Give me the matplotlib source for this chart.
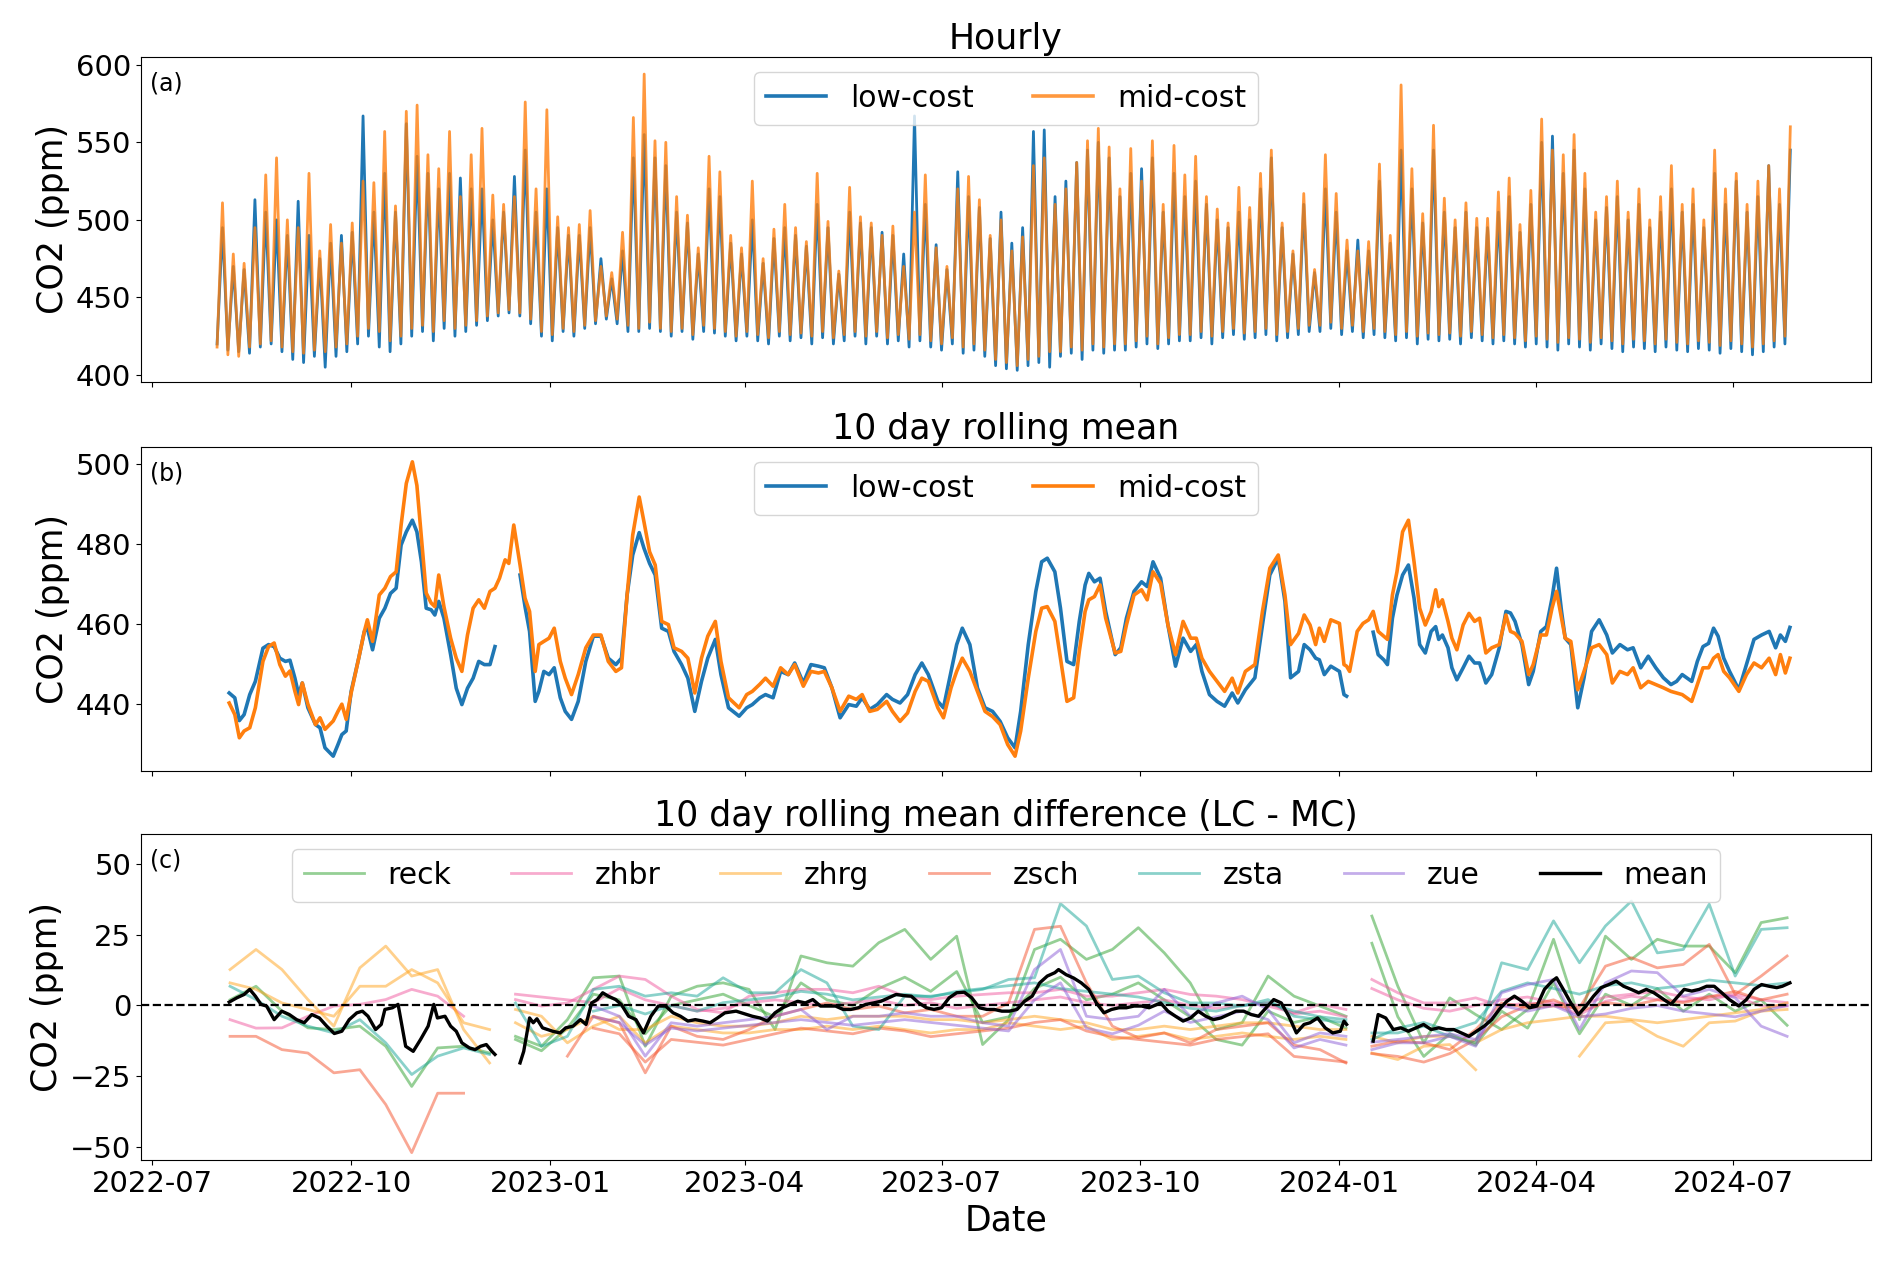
import numpy as np
import matplotlib
matplotlib.use('Agg')
import matplotlib.pyplot as plt
import matplotlib.dates as mdates

nan = np.nan
BASE = np.datetime64('2022-07-01T00:00')


def to_dates(days):
    d = np.asarray(days, dtype=float)
    return BASE + np.round(d * 24 * 60).astype('int64').astype('timedelta64[m]')

# ---------------- (a) hourly: per 5-day bin trough and peak (ppm) ----------------
hourly_bin_start = np.arange(30, 760, 5)  # days since 2022-07-01
mc_peak = [511, 478, 472, 495, 529, 540, 500, 495, 530, 480,
           497, 485, 498, 525, 524, 557, 509, 570, 574, 542,
           533, 557, 515, 542, 559, 516, 510, 515, 576, 520,
           571, 502, 495, 497, 506, 470, 466, 492, 566, 594,
           551, 550, 515, 503, 482, 541, 531, 490, 482, 525,
           475, 494, 510, 495, 486, 530, 499, 467, 521, 502,
           498, 490, 496, 470, 505, 529, 482, 470, 520, 528,
           513, 490, 500, 480, 489, 535, 540, 510, 520, 537,
           551, 559, 547, 520, 546, 525, 551, 510, 548, 529,
           541, 515, 507, 498, 521, 508, 530, 545, 498, 480,
           517, 468, 542, 517, 487, 480, 486, 536, 490, 587,
           533, 504, 561, 514, 500, 511, 501, 501, 518, 527,
           497, 519, 565, 545, 542, 555, 530, 505, 515, 525,
           505, 520, 500, 515, 535, 510, 520, 500, 545, 520,
           530, 510, 525, 535, 520, 560]
lc_peak = [495, 470, 468, 513, 505, 500, 490, 512, 490, 475,
           485, 490, 492, 567, 505, 530, 505, 562, 541, 530,
           520, 530, 527, 520, 520, 500, 505, 528, 545, 505,
           520, 495, 490, 490, 495, 475, 462, 480, 540, 555,
           540, 535, 505, 498, 478, 520, 515, 485, 478, 500,
           472, 488, 495, 490, 483, 510, 495, 465, 505, 498,
           495, 492, 490, 478, 567, 510, 484, 468, 531, 515,
           508, 488, 505, 485, 495, 557, 558, 515, 525, 537,
           545, 550, 540, 515, 530, 533, 540, 505, 530, 515,
           525, 510, 500, 495, 505, 500, 520, 540, 495, 478,
           510, 466, 520, 505, 480, 487, 480, 525, 485, 545,
           520, 498, 545, 505, 495, 505, 495, 495, 505, 515,
           492, 510, 550, 554, 530, 545, 520, 500, 508, 515,
           500, 510, 495, 505, 520, 505, 510, 495, 530, 510,
           525, 505, 515, 535, 510, 545]
mc_low = [418, 413, 412, 418, 420, 422,
          418, 415, 414, 416, 415, 418,
          420, 425, 430, 428, 422, 425,
          430, 432, 428, 435, 430, 432,
          435, 438, 440, 442, 440, 436,
          428, 426, 430, 428, 432, 435,
          438, 436, 432, 430, 434, 430,
          428, 430, 426, 432, 430, 428,
          425, 428, 426, 424, 428, 426,
          427, 425, 428, 424, 426, 428,
          425, 428, 424, 426, 423, 426,
          422, 420, 424, 418, 420, 416,
          410, 408, 406, 410, 412, 415,
          415, 418, 416, 420, 418, 420,
          420, 422, 425, 420, 424, 426,
          426, 428, 425, 428, 430, 427,
          428, 430, 426, 428, 430, 432,
          432, 434, 430, 432, 428, 430,
          428, 426, 428, 425, 427, 426,
          427, 425, 428, 426, 424, 426,
          424, 422, 425, 423, 421, 424,
          423, 421, 424, 422, 420, 423,
          422, 420, 423, 421, 420, 422,
          421, 419, 422, 420, 418, 420, 422, 425]
lc_low = [420, 416, 415, 414, 418, 420,
          415, 410, 408, 412, 405, 412,
          415, 420, 425, 418, 415, 420,
          425, 428, 422, 430, 425, 428,
          432, 435, 438, 440, 438, 433,
          425, 422, 428, 425, 430, 433,
          436, 433, 428, 428, 430, 428,
          425, 428, 423, 428, 427, 425,
          422, 425, 422, 420, 425, 422,
          424, 420, 424, 420, 422, 425,
          420, 425, 420, 422, 418, 422,
          418, 416, 420, 414, 416, 412,
          406, 404, 403, 406, 408, 405,
          412, 414, 410, 416, 414, 416,
          416, 418, 420, 417, 420, 422,
          422, 424, 420, 424, 426, 423,
          424, 426, 422, 424, 426, 428,
          428, 430, 426, 428, 424, 426,
          424, 422, 424, 420, 423, 422,
          423, 420, 424, 422, 420, 422,
          420, 418, 420, 418, 416, 420,
          418, 416, 420, 417, 415, 418,
          417, 415, 418, 416, 415, 417,
          416, 414, 417, 415, 413, 415, 418, 420]

# ---------------- (b) 10 day rolling mean ----------------
b_days = [35.6, 38.2, 40.3, 42.5, 45.1, 47.7, 51.2, 53.8, 56.4, 59.0, 61.6, 63.7, 66.0, 67.7, 69.4,
          72.0, 75.5, 77.6, 79.9, 83.7, 85.9, 87.7, 89.7, 92.0, 95.5, 98.1, 99.5, 101.9, 105.0,
          107.6, 110.2, 112.8, 115.1, 117.5, 120.3, 122.4, 124.5, 126.7, 129.0, 130.7, 132.5,
          134.9, 138.0, 140.6, 143.2, 145.8, 148.4, 151.0, 153.6, 156.2, 158.5, 160.6, 163.2,
          164.9, 167.2, 170.1, 172.4, 174.5, 177.1, 178.8, 181.1, 183.5, 185.9, 188.7, 191.0,
          193.9, 197.0, 200.5, 204.0, 207.5, 210.9, 214.4, 217.0, 219.6, 222.2, 225.2, 227.4,
          230.0, 232.6, 235.6, 238.7, 241.3, 244.8, 247.7, 250.9, 254.0, 256.9, 260.4, 263.0,
          266.5,
          271.4, 274.9, 277.5, 281.0, 283.6, 287.1, 290.6, 294.1, 297.1, 301.1, 304.6, 308.1,
          310.8, 314.3, 318.1, 322.1, 325.6, 328.3, 331.8, 335.3, 339.6, 342.3, 345.8, 349.3,
          352.8, 355.9, 358.9, 363.3, 365.9, 369.4, 372.0, 374.6, 378.1, 381.6, 385.1, 388.6,
          392.1, 395.6, 399.0, 401.6, 405.1, 408.6, 411.3, 413.9, 417.4, 420.0, 423.0, 426.1,
          428.7, 431.4, 433.1, 435.7, 438.3, 440.9, 445.3, 447.9, 450.5, 454.0, 457.5, 460.1,
          462.8, 466.3, 469.7, 473.2, 476.7, 480.2, 482.8, 485.4, 488.9, 492.4, 495.9, 499.4,
          502.0, 505.5, 509.9, 513.4, 516.8, 520.7, 523.8, 526.4,
          530.1, 532.7, 535.4, 538.0, 539.7, 542.0, 545.0, 549.0, 551.1, 552.3, 553.7, 557.2,
          559.9, 562.5, 564.6, 566.9, 569.5, 571.2, 573.5, 575.6, 578.2, 580.9, 583.5, 586.1,
          588.7, 591.4, 593.5, 594.9, 596.6, 599.2, 601.0, 603.3, 606.2, 608.9, 611.5, 613.8,
          616.7, 619.4, 622.9, 626.0, 628.1, 630.2, 633.4, 636.5, 638.6, 642.1, 644.7, 647.3,
          649.4, 651.7, 653.4, 656.0, 659.2, 662.1, 665.6, 669.1, 672.6, 675.2, 678.7, 682.2,
          684.8, 688.3, 691.8, 695.3, 698.8, 702.3, 704.9, 707.5, 711.9, 714.5, 717.1, 719.7,
          722.0, 724.1, 726.7, 729.4, 733.7, 737.2, 740.7, 744.2, 747.7, 750.7, 752.9, 755.2,
          757.3]
b_lc = [442.8, 441.6, 435.9, 437.4, 442.4, 445.7, 454.0, 454.9, 454.4, 451.5, 450.7, 451.0, 446.5,
        442.4, 445.3, 439.1, 434.9, 434.1, 429.1, 427.0, 429.9, 432.4, 433.3, 443.2, 451.5, 458.2,
        459.0, 453.6, 461.5, 464.0, 467.7, 469.0, 479.8, 483.1, 486.0, 483.1, 475.6, 464.0, 463.6,
        462.3, 465.7, 461.5, 452.4, 444.0, 439.9, 444.0, 446.5, 450.7, 449.9, 449.9, 454.4, nan,
        nan, nan, nan, 472.3, 464.4, 458.2, 440.7, 443.2, 448.2, 447.4, 449.1, 441.6, 438.2, 436.2,
        440.7, 450.7, 457.0, 457.0, 451.5, 449.9, 451.5, 467.3, 477.3, 482.9, 479.0, 475.2, 472.3,
        459.0, 458.2, 453.2, 449.9, 446.5, 438.2, 445.7, 451.5, 456.2, 447.4, 439.1,
        437.0, 439.1, 439.9, 441.6, 442.4, 441.6, 448.2, 447.4, 450.3, 445.3, 449.9, 449.5, 449.1,
        444.1, 436.6, 439.9, 439.5, 441.6, 438.7, 439.9, 442.4, 441.2, 440.3, 442.4, 447.4, 450.3,
        447.4, 440.7, 439.1, 448.2, 454.9, 459.0, 454.9, 444.1, 439.1, 438.2, 435.7, 431.6, 429.1,
        438.2, 454.9, 468.2, 475.6, 476.5, 473.1, 464.0, 450.7, 449.9, 460.7, 469.8, 472.7, 470.6,
        471.5, 463.2, 452.4, 454.1, 461.5, 468.2, 470.6, 469.4, 475.6, 471.5, 459.8, 449.5, 456.5,
        453.2, 454.9, 448.2, 442.4, 440.7, 439.5, 442.8, 440.3, 443.6, 446.6, 459.8, 472.3, 476.5,
        465.7, 446.6,
        448.2, 454.9, 453.6, 451.5, 451.1, 447.4, 449.5, 448.2, 442.4, 442.0, nan, nan, nan, nan,
        458.0, 452.4, 451.1, 449.9, 461.5, 467.3, 472.3, 474.8, 466.5, 454.9, 452.8, 458.2, 459.4,
        456.2, 457.3, 454.1, 449.1, 446.1, 449.1, 452.0, 450.3, 450.3, 445.3, 447.4, 454.1, 463.2,
        462.8, 460.7, 454.9, 444.9, 448.2, 458.2, 459.4, 466.5, 474.0, 463.2, 456.5, 454.9, 439.1,
        446.6, 458.2, 461.1, 457.3, 452.8, 454.9, 453.6, 454.1, 449.1, 452.0, 449.1, 446.6, 444.9,
        445.7, 447.4, 445.7, 450.7, 454.4, 455.2, 459.0, 457.0, 451.5, 448.2, 443.6, 449.9, 456.2,
        457.3, 458.2, 454.1, 457.3, 455.7, 459.2]
b_mc = [440.3, 437.4, 431.6, 433.3, 434.1, 439.1, 450.7, 454.4, 455.3, 449.9, 447.0, 448.3, 443.2,
        439.9, 445.3, 440.0, 434.9, 436.6, 433.7, 435.8, 438.2, 440.0, 436.2, 442.8, 451.5, 458.2,
        461.1, 455.7, 467.3, 469.0, 471.9, 473.1, 484.8, 495.2, 500.6, 494.7, 481.5, 467.8, 465.3,
        464.4, 472.3, 464.4, 456.5, 451.5, 448.2, 457.3, 464.0, 466.1, 464.0, 468.2, 469.0, 471.5,
        476.1, 475.2, 484.8, 474.8, 466.5, 463.2, 448.2, 454.9, 455.7, 456.5, 459.0, 450.7, 446.5,
        442.4, 447.4, 454.1, 457.3, 457.3, 450.7, 448.2, 449.1, 467.3, 482.3, 491.8, 485.6, 478.1,
        474.8, 460.7, 459.9, 454.1, 453.2, 451.5, 442.8, 451.5, 457.0, 460.7, 450.7, 441.6,
        439.1, 442.4, 443.2, 445.0, 446.5, 444.5, 449.1, 447.4, 449.9, 444.5, 448.2, 447.8, 448.2,
        444.1, 438.2, 442.0, 441.2, 442.4, 438.2, 438.7, 440.7, 438.2, 435.7, 437.8, 443.2, 446.5,
        445.7, 439.1, 436.6, 444.1, 448.2, 451.5, 448.2, 443.2, 438.2, 436.9, 434.9, 429.9, 427.0,
        433.3, 446.5, 458.2, 464.0, 464.4, 460.7, 451.5, 440.7, 441.6, 453.2, 463.2, 466.1, 466.9,
        469.8, 461.5, 452.8, 453.2, 459.8, 467.3, 468.6, 466.1, 473.1, 470.2, 459.8, 452.4, 460.7,
        456.5, 456.5, 451.5, 448.2, 445.7, 443.2, 446.5, 442.8, 448.2, 449.9, 463.2, 474.0, 477.3,
        467.3, 454.9,
        457.7, 462.3, 459.8, 454.9, 459.0, 455.7, 461.1, 460.2, 449.9, 449.5, 448.2, 458.2, 460.2,
        461.1, 463.2, 458.2, 457.0, 456.2, 467.3, 473.1, 483.1, 486.0, 475.6, 464.0, 459.8, 463.2,
        468.6, 464.4, 466.1, 460.7, 456.5, 453.6, 459.8, 462.7, 460.7, 461.5, 452.8, 454.1, 454.9,
        462.3, 458.2, 457.7, 455.7, 447.4, 449.9, 457.3, 457.3, 464.0, 468.2, 461.5, 456.5, 455.7,
        443.6, 448.2, 454.1, 454.9, 452.4, 445.3, 448.2, 447.4, 449.1, 444.1, 445.7, 444.9, 444.1,
        443.2, 442.8, 442.4, 440.7, 444.9, 449.1, 449.1, 451.5, 452.4, 448.2, 446.6, 443.2, 447.4,
        450.3, 449.1, 451.5, 447.4, 452.4, 447.8, 451.5]

# ---------------- (c) 10 day rolling mean difference (LC - MC) ----------------
c_days = [36, 48, 60, 72, 84, 96, 108, 120, 132, 144, 156, 162,
          168, 180, 192, 204, 216, 228, 240, 252, 264, 276, 288, 300, 312, 324, 336, 348, 360,
          372, 384, 396, 408, 420, 432, 444, 456, 468, 480, 492, 504, 516, 528, 540, 552, 558,
          564, 576, 588, 600, 612, 624, 636, 648, 660, 672, 684, 696, 708, 720, 732, 744, 756]
N15 = [nan] * 15
N12 = [nan] * 12
reck_a = [2.0, 6.8, -2.0, -7.9, -8.5, -7.3, -14.4, -28.6, -15.0, -14.4, -16.8, nan,
          -10.9, -14.4, -5.0, 9.8, 10.4, -14.4, 3.3, 6.8, 8.0, 5.7, -8.5, 17.5, 15.1, 13.9, 22.2,
          26.9, 16.3, 24.5, -13.8, -5.0, 19.8, 23.4, 16.3, 19.8, 27.5, 18.6, 8.0, -8.5, -6.1, 10.4,
          3.3, -0.2, -3.8, nan,
          31.6, 6.8, -13.2, 2.7, -3.2, -8.5, -1.4, 23.4, -5.0, 24.5, 16.3, 23.4, 21.0, 21.0, 11.6,
          29.3, 31.0]
reck_b = N12 + [-12, -16, -8, 4, 2, -10, 0, 2, 4, 0, -4, 8, 2, 0, 6, 10, 5, 12, -6, -4, 6, 10, 2,
                4, 8, 2, -4, -12, -14, -2, -6, -4, -8, nan,
                22, -4, -18, -10, -14, -2, -8, 8, -10, 4, 0, 6, -2, 4, -2, 2, -7]
zhbr_a = [-5.0, -8.0, -7.9, -3.8, -0.2, 0.4, 2.1, 5.7, 3.3, -3.8, nan, nan,
          2.1, -0.2, 0.9, 5.7, 10.4, 9.2, 3.3, -1.4, -2.6, 3.3, 4.5, 5.7, 5.7, 4.5, 6.8, 3.3, 2.1,
          3.3, 3.9, 4.5, 4.5, 5.7, 3.3, 3.3, 4.5, 5.7, 3.9, 3.3, 2.1, -0.2, -2.6, 0.4, -1.4, nan,
          9.2, 4.5, 0.9, 0.9, 2.7, -0.2, 0.9, 0.4, -3.2, 1.5, 3.3, 2.1, 1.5, 3.3, 3.3, -0.2, -0.2]
zhbr_b = N12 + [4, 3, 2, 1, 6, 2, 0, -2, -1, 1, 2, 1, 0, 1, 2, 0, 1, -1, 0, 1, 2, 3, 1, 0, 1, 2,
                0, -1, 0, 1, -3, -2, -4, nan,
                6, 2, -1, -2, 0, 2, 3, 1, 0, 3, 4, 5, 3, 2, 4, 2, 1]
zhrg_a = [12.7, 19.8, 12.7, 2.1, -7.3, 13.3, 21.0, 10.4, 12.7, -8.5, -20.3, nan,
          -1.4, -3.8, -13.2, -7.3, -3.8, -13.2, -7.3, -8.5, -9.7, -9.7, -8.5, -8.5, -7.3, -8.5,
          -7.3, -8.5, -9.7, -8.5, -8.5, -6.1, -7.3, -8.5, -7.3, -12.0, -10.9, -9.7, -12.0, -10.9,
          -9.7, -10.9, -12.0, -10.9, -12.0, nan,
          -16.8, -19.1, -14.4, -13.8, -22.7, nan, nan, nan, -17.9, -6.1, -5.5, -10.9, -14.4, -6.1,
          -5.5, -2.0, -1.4]
zhrg_b = [8.0, 5.7, 0.9, -1.4, -3.8, 6.8, 6.8, 12.7, 8.0, -6.1, -8.5, nan,
          -6.1, -10.9, -8.5, -3.8, -8.5, -8.5, -3.8, -6.1, -7.3, -7.3, -6.1, -3.8, -5.0, -3.8,
          -3.8, -3.8, -5.0, -5.0, -6.1, -5.0, -3.8, -5.0, -6.1, -8.5, -8.5, -7.3, -8.5, -7.3, -6.1,
          -6.1, -7.3, -8.5, -8.5, nan,
          -10.9, -13.2, -10.9, -10.9, -13.2, -8.5, -6.1, -5.0, -3.8, -3.8, -5.0, -6.1, -5.0, -3.8,
          -2.6, -1.4, 0.9]
zsch_a = [-10.9, -10.9, -15.6, -16.8, -23.8, -22.7, -35.0, -52.0, -31.0, -31.0, nan, nan,
          nan, nan, -17.9, -3.8, -6.1, -23.8, -7.3, -10.9, -12.0, -8.5, -3.8, -1.4, 0.9, -1.4,
          -0.2, -2.6, -1.4, -3.8, -3.8, 0.9, 26.9, 28.0, 8.0, -7.3, -11.4, -9.7, -13.2, -8.5, -7.3,
          -6.1, -14.0, -15.6, -20.3, nan,
          -14.4, -12.6, -13.2, -15.6, -8.5, 0.9, -0.8, -0.2, -0.8, 13.9, 16.9, 13.3, 14.5, 21.6,
          3.9, 10.4, 17.5]
zsch_b = N15 + [-8, -10, -20, -12, -13, -14, -12, -10, -8, -9, -10, -8, -9, -11, -10, -9, -8, -6,
                -5, -9, -11, -12, -13, -14, -12, -11, -10, -18, -19, -20, nan,
                -17, -18, -20, -17, -12, -4, 0, 2, -2, 1, 0, 2, 1, 3, 5, 2, 4]
zsta_a = [6.8, 2.1, -3.8, -7.3, -9.7, -5.0, -13.2, -24.4, -17.9, -15.0, -17.3, nan,
          0.9, -14.4, -10.9, 5.7, 6.8, 3.3, 4.5, 3.3, 9.8, 4.5, 4.5, 12.7, 8.0, -7.3, -8.5, 3.3,
          3.3, 4.5, 5.7, 9.2, 9.8, 36.0, 28.1, 9.2, 10.4, 4.5, 0.9, 0.9, -0.2, 2.1, -3.8, -5.0,
          -6.1, nan,
          -9.7, -9.7, -7.3, -10.9, -13.2, 15.1, 12.7, 29.9, 15.1, 28.1, 36.9, 18.6, 19.8, 35.8,
          10.4, 26.9, 27.5]
zsta_b = N15 + [-2, 0, -3, 0, -2, 1, 2, 3, 5, 4, 2, 3, 4, 3, 5, 6, 7, 8, 6, 5, 4, 3, 1, -1, -2,
                0, 1, -2, -4, -5, nan,
                -12, -8, -6, -9, -6, 5, 8, 6, 4, 7, 8, 6, 7, 9, 8, 7, 8]
zue_a = N15 + [-0.2, -3.8, -17.9, -6.1, -7.3, -6.1, -5.0, -3.8, -1.4, -8.5, -3.8, -3.8, -2.6,
               -3.8, -3.8, -6.1, -7.3, 12.7, 19.8, -3.8, -5.0, -3.8, 5.7, -3.8, 0.9, 3.3, -1.4,
               -13.2, -9.7, -10.9, nan,
               -15.6, -13.2, -13.2, -10.9, -14.4, 4.5, 7.4, 9.2, -8.5, 8.0, 12.2, 11.6, 3.3, 5.7,
               2.7, -7.3, -10.9]
zue_b = N15 + [-4, -6, -14, -8, -9, -8, -7, -6, -5, -6, -7, -6, -5, -6, -7, -8, -9, 2, 8, -8,
               -10, -7, -2, -6, -4, -2, -5, -15, -12, -14, nan,
               -13, -12, -11, -10, -12, 0, -2, 0, -4, -3, -1, 0, -2, -3, -4, -2, 0]

mean_days = [35.6, 39.1, 42.5, 45.1, 47.7, 50.3, 52.9, 56.4, 59.9, 63.4, 66.8, 70.3, 73.8, 77.3,
             80.7, 84.2, 87.7, 91.1, 94.6, 97.2, 99.8, 103.3, 105.9, 107.6, 111.1, 113.7, 117.2,
             120.7, 124.1, 127.6, 130.2, 131.9, 135.4, 138.0, 140.6, 143.2, 146.7, 149.3, 151.9,
             154.5, 157.1, 158.5, 164.0, 170.1, 171.8, 174.5, 176.2, 177.9, 180.5, 185.2, 188.6,
             191.2, 194.6, 198.0, 200.6, 203.2, 205.8, 208.3, 210.9, 214.3, 216.9, 220.3, 223.7,
             227.2, 230.6, 234.0, 237.4, 240.9, 244.3, 247.7, 251.1, 254.6, 258.0, 261.4, 264.8,
             270.0, 277.5, 281.0, 284.5, 288.0, 291.5, 295.0, 298.5, 302.0, 305.5, 309.0, 312.5,
             316.0, 319.5, 323.0, 326.5, 330.0, 333.5, 337.0, 340.5, 344.0, 347.5, 351.0, 354.5,
             358.0, 361.5, 365.0, 368.5, 372.0, 375.5, 379.0, 382.5, 386.0, 389.4, 392.9, 396.4,
             399.9, 403.4, 406.9, 410.4, 413.9, 417.4, 419.1, 422.6, 426.1, 429.6, 433.1, 436.6,
             440.1, 443.6, 447.0, 450.5, 454.0, 457.5, 461.0, 466.3, 469.7, 473.2, 476.7, 480.2,
             483.7, 487.2, 490.7, 494.2, 497.7, 501.2, 504.7, 508.2, 511.6, 515.1, 518.6, 522.1,
             525.6, 529.1, 532.6, 535.4, 538.9, 542.4, 545.9, 549.4, 551.1, 552.3, 558.0, 564.6,
             566.9, 570.4, 573.9, 577.4, 580.9, 584.4, 587.9, 591.4, 594.9, 598.4, 601.9, 605.4,
             608.9, 612.4, 615.9, 619.4, 622.9, 626.4, 629.9, 633.4, 636.9, 640.3, 643.8, 647.3,
             649.4, 652.5, 656.0, 659.5, 663.0, 666.5, 670.0, 673.5, 677.0, 680.4, 683.9, 687.4,
             690.9, 694.4, 697.9, 702.3, 704.9, 708.4, 711.9, 715.4, 718.8, 722.3, 725.8, 729.3,
             733.7, 737.2, 740.7, 744.2, 747.7, 751.2, 753.8, 757.3]
mean_vals = [1.2, 2.7, 3.9, 5.7, 3.3, 0.4, -0.2, -5.0, -2.0, -3.2, -5.0, -6.1, -3.2, -4.4, -7.3,
             -9.9, -9.1, -5.0, -2.6, -2.0, -3.8, -8.5, -6.7, -1.4, -0.8, 0.4, -14.4, -16.2, -12.0,
             -7.3, 0.4, -4.4, -3.8, -7.3, -9.1, -13.2, -15.0, -15.6, -14.4, -13.8, -16.2, -17.3,
             nan, -20.3, -16.2, -4.4, -6.1, -4.7, -7.9, -9.1, -9.7, -7.9, -7.3, -5.0, -6.7, 0.9,
             2.1, 4.5, 3.3, 2.1, 0.4, -3.8, -5.0, -9.7, -3.8, -0.2, -0.2, -2.6, -3.8, -5.5, -5.0,
             -5.5, -6.1, -4.4, -2.6, -2.0, -3.8, -4.4, -5.5, -2.6, -0.8, 0.4, 1.5, 0.9, 2.1, -0.2,
             -0.2, -0.2, -1.4, -1.4, -0.8, 0.4, 0.9, 1.5, 2.7, 3.9, 3.5, 3.3, 0.9, -0.8, -1.4, -0.8,
             2.7, 4.5, 4.7, 2.7, -0.8, -1.4, -1.4, -2.0, -2.0, -1.4, 1.5, 3.3, 8.0, 10.4, 11.6,
             12.7, 10.9, 9.7, 8.0, 5.7, 0.9, -2.6, -1.4, -0.8, -0.8, -0.2, -0.2, -0.8, 0.9, -2.0,
             -3.8, -5.5, -4.4, -2.0, -3.8, -5.0, -4.4, -3.2, -2.0, -2.0, -3.2, -3.8, -0.8, 2.1,
             0.9, -3.8, -9.7, -6.7, -6.1, -4.4, -7.9, -9.7, -9.1, -5.5, -6.7, nan, -12.6, -3.2,
             -4.4, -8.5, -7.9, -9.1, -7.9, -6.7, -8.5, -7.9, -8.5, -8.5, -9.7, -10.9, -9.1, -7.3,
             -5.0, -1.4, 1.5, 3.3, 1.5, -0.8, -0.2, 5.7, 8.6, 9.8, 5.7, 0.9, -3.2, -0.2, 3.3, 6.3,
             7.4, 8.6, 6.8, 5.7, 4.5, 5.7, 4.5, 2.7, 0.4, 2.7, 5.7, 5.1, 5.7, 6.8, 6.8, 4.5, 2.1,
             -0.2, 2.1, 5.7, 7.4, 6.8, 6.3, 6.8, 8.0]

station_names = ['reck', 'zhbr', 'zhrg', 'zsch', 'zsta', 'zue']
station_colors = ['#2ca02c', '#f0589e', '#ffa31a', '#f4502a', '#17a596', '#8a5cd6']
station_lines = [(reck_a, reck_b), (zhbr_a, zhbr_b), (zhrg_a, zhrg_b),
                 (zsch_a, zsch_b), (zsta_a, zsta_b), (zue_a, zue_b)]

# ---------------- figure ----------------
plt.rcParams['font.family'] = ['DejaVu Sans']
TICK_FS = 21
LAB_FS = 25
LEG_FS = 21.5

fig = plt.figure(figsize=(18.92, 12.61), dpi=100)
L, W = 0.0745, 0.9144
ax_a = fig.add_axes([L, 0.6971, W, 0.2577])
ax_b = fig.add_axes([L, 0.3886, W, 0.2569])
ax_c = fig.add_axes([L, 0.0801, W, 0.2585])

# (a)
xa = np.column_stack([hourly_bin_start, hourly_bin_start + 2.5]).ravel()
ya_lc = np.column_stack([lc_low, lc_peak]).ravel()
ya_mc = np.column_stack([mc_low, mc_peak]).ravel()
la, = ax_a.plot(to_dates(xa), ya_lc, color='#1f77b4', lw=2.0, label='low-cost')
lm, = ax_a.plot(to_dates(xa), ya_mc, color='#ff7f0e', lw=2.0, alpha=0.8, label='mid-cost')
ax_a.set_ylim(395.5, 605)
ax_a.set_yticks([400, 450, 500, 550, 600])
ax_a.set_title('Hourly', fontsize=LAB_FS)
leg_a = ax_a.legend(loc='upper center', ncol=2, fontsize=LEG_FS)
for h in leg_a.get_lines():
    h.set_linewidth(2.6)

# (b)
ax_b.plot(to_dates(b_days), b_lc, color='#1f77b4', lw=2.6, label='low-cost')
ax_b.plot(to_dates(b_days), b_mc, color='#ff7f0e', lw=2.6, label='mid-cost')
ax_b.set_ylim(423.3, 504.3)
ax_b.set_yticks([440, 460, 480, 500])
ax_b.set_title('10 day rolling mean', fontsize=LAB_FS)
ax_b.legend(loc='upper center', ncol=2, fontsize=LEG_FS)

# (c)
cd = to_dates(c_days)
for name, col, (sa, sb) in zip(station_names, station_colors, station_lines):
    ax_c.plot(cd, sa, color=col, lw=2.0, alpha=0.5, label=name)
    ax_c.plot(cd, sb, color=col, lw=2.0, alpha=0.5)
ax_c.plot(to_dates(mean_days), mean_vals, color='black', lw=2.4, label='mean')
ax_c.axhline(0, color='black', ls='--', lw=1.6)
ax_c.set_ylim(-54.6, 60.6)
ax_c.set_yticks([-50, -25, 0, 25, 50])
ax_c.set_title('10 day rolling mean difference (LC - MC)', fontsize=LAB_FS)
ax_c.legend(loc='upper center', ncol=7, fontsize=LEG_FS)
ax_c.set_xlabel('Date', fontsize=LAB_FS)

xlim = (to_dates([-5.2])[0], to_dates([794.8])[0])
for ax, tag in zip([ax_a, ax_b, ax_c], ['(a)', '(b)', '(c)']):
    ax.set_xlim(*xlim)
    ax.xaxis.set_major_locator(mdates.MonthLocator(bymonth=[1, 4, 7, 10]))
    ax.xaxis.set_major_formatter(mdates.DateFormatter('%Y-%m'))
    ax.tick_params(labelsize=TICK_FS)
    ax.set_ylabel('CO2 (ppm)', fontsize=LAB_FS)
    ax.text(0.005, 0.955, tag, transform=ax.transAxes, fontsize=17, va='top', ha='left')
ax_a.tick_params(labelbottom=False)
ax_b.tick_params(labelbottom=False)

fig.savefig('out.png', dpi=100)
